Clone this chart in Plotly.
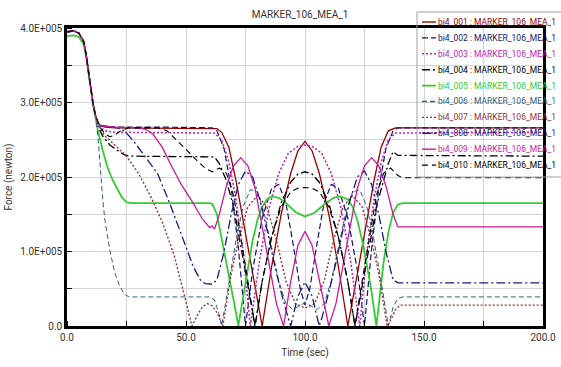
import plotly.graph_objects as go

# ---------------- data (time in s, force in kN; converted to N below) ----------------
LIFT_T = [0, 3, 5, 7, 8, 9, 10, 11, 12]
LIFT_F = [395, 396, 393, 382, 365, 342, 318, 297, 282]

s1_t = [13, 14, 16, 20, 30, 40, 50, 58, 61, 63, 65, 68, 71, 74, 78, 82, 86, 90, 94, 97, 100, 103, 106, 110, 114, 118, 122, 126, 129, 132, 135, 138, 150, 200]
s1_f = [273, 269, 267, 266, 266, 266, 266, 266, 266, 265, 260, 240, 195, 143, 70, 0, 80, 150, 205, 235, 248, 235, 205, 150, 80, 0, 70, 143, 195, 240, 262, 266, 266, 266]

s2_t = [13, 14, 16, 20, 40, 58, 61, 63, 66, 69, 72, 75, 78, 82, 86, 89, 92, 95, 98, 100, 102, 105, 108, 111, 114, 118, 122, 125, 128, 131, 134, 137, 139, 200]
s2_f = [273, 269, 268, 267, 267, 267, 266, 262, 238, 185, 105, 0, 75, 145, 185, 190, 165, 110, 50, 28, 50, 110, 165, 190, 185, 145, 75, 0, 105, 185, 238, 262, 266, 266]

s3_t = [13, 14, 16, 20, 58, 62, 65, 68, 71, 74, 77, 81, 85, 89, 93, 97, 100, 103, 107, 111, 115, 119, 123, 126, 129, 132, 135, 138, 200]
s3_f = [272, 266, 262, 260, 260, 259, 250, 220, 170, 100, 0, 90, 160, 205, 232, 241, 243, 241, 232, 205, 160, 90, 0, 100, 170, 220, 250, 259, 260]

s4_t = [13, 15, 18, 21, 24, 26, 60, 62, 64, 67, 70, 73, 76, 79, 82, 86, 90, 94, 97, 100, 103, 106, 110, 114, 118, 121, 124, 127, 130, 133, 135, 137, 139, 200]
s4_f = [268, 255, 243, 236, 230, 228, 228, 227, 218, 195, 160, 110, 55, 0, 60, 120, 165, 193, 204, 207, 204, 193, 165, 120, 60, 0, 55, 110, 160, 195, 218, 234, 229, 228]

s5_t = [0, 3, 5, 7, 8, 9, 10, 11, 12, 13, 15, 17, 19, 21, 23, 25, 27, 60, 61, 63, 65, 67, 69, 71, 72, 74, 76, 78, 80, 82, 84, 86, 89, 92, 96, 100, 104, 108, 112, 115, 118, 120, 122, 124, 126, 128, 130, 131.5, 133, 135, 137, 139, 141, 200]
s5_f = [389, 390, 388, 378, 362, 340, 316, 296, 280, 262, 236, 213, 197, 184, 173, 166, 165, 165, 164, 150, 118, 82, 50, 18, 0, 40, 80, 115, 142, 160, 170, 174, 172, 165, 153, 147, 152, 163, 172, 174, 170, 160, 142, 115, 82, 45, 0, 40, 85, 125, 152, 163, 165, 165]

s6_t = [12, 13, 14, 15, 16, 18, 20, 22, 24, 26, 30, 60, 62, 64, 65, 68, 71, 74, 77, 80, 83, 86, 89, 92, 95, 98, 100, 102, 105, 108, 111, 114, 117, 120, 123, 126, 129, 132, 135, 137, 139, 141, 200]
s6_f = [280, 255, 210, 170, 140, 102, 72, 55, 43, 39, 39, 39, 35, 15, 0, 60, 115, 160, 183, 180, 150, 105, 60, 30, 22, 28, 31, 28, 22, 30, 60, 105, 150, 180, 183, 160, 115, 60, 0, 25, 37, 39, 39]

s7_t = [12, 13, 14, 16, 20, 25, 30, 35, 40, 45, 49, 52.5, 55, 57, 59, 61, 63, 65.5, 69, 72, 76, 80, 84, 88, 92, 96, 100, 104, 108, 112, 116, 120, 124, 128, 131, 134.5, 136, 138, 140, 200]
s7_f = [282, 272, 264, 255, 243, 228, 205, 175, 140, 95, 45, 0, 16, 26, 30, 27, 18, 0, 70, 115, 160, 175, 160, 115, 60, 30, 24, 30, 60, 115, 160, 175, 160, 115, 70, 0, 8, 22, 28, 28]

s8_t = [13, 14, 16, 20, 23, 25, 28, 31.5, 35, 38, 43, 47, 50, 53, 56, 58, 61, 63, 66, 69, 72, 75, 78, 81, 84, 87, 90, 93, 94, 97, 100, 103, 106, 107, 110, 113, 116, 119, 122, 125, 128, 131, 134, 137, 139, 200]
s8_f = [273, 269, 268, 267, 264, 259, 248, 233, 218, 205, 166, 133, 106, 80, 62, 57, 56, 62, 100, 150, 190, 208, 200, 170, 130, 85, 45, 10, 0, 40, 59, 40, 0, 10, 45, 85, 130, 170, 200, 208, 190, 150, 100, 62, 58, 58]

s9_t = [13, 14, 16, 20, 30, 33, 36, 40, 44, 48, 53, 57, 60, 61, 62, 64, 67, 70, 73, 76, 79, 82, 85, 88, 91, 94, 97, 100, 103, 106, 110, 113, 116, 119, 122, 125, 128, 131, 134, 137, 139, 200]
s9_f = [273, 269, 268, 267, 266, 264, 258, 240, 214, 190, 165, 143, 132, 134, 130, 150, 188, 215, 226, 215, 185, 135, 80, 30, 0, 60, 108, 127, 108, 60, 0, 30, 80, 135, 185, 215, 226, 215, 188, 150, 133, 133]

s10_t = [13, 14, 16, 18, 20, 23, 26, 38, 42, 46, 50, 54, 58, 61, 64, 67, 70, 73, 76, 79, 82, 86, 90, 94, 97, 100, 103, 106, 110, 114, 118, 121, 124, 127, 130, 133, 136, 139, 141, 200]
s10_f = [273, 266, 258, 254, 256, 263, 266, 266, 262, 250, 237, 224, 212, 207, 212, 205, 175, 120, 60, 0, 60, 120, 160, 180, 185, 186, 185, 180, 160, 120, 60, 0, 60, 120, 175, 205, 212, 202, 199, 199]

series_names = ["bi4_001", "bi4_002", "bi4_003", "bi4_004", "bi4_005",
                "bi4_006", "bi4_007", "bi4_008", "bi4_009", "bi4_010"]
marker_name = "MARKER_106_MEA_1"
x_tickvals = [0, 50, 100, 150, 200]
x_ticktext = ["0.0", "50.0", "100.0", "150.0", "200.0"]
y_tickvals = [0, 100000, 200000, 300000, 400000]
y_ticktext = ["0.0", "1.0E+005", "2.0E+005", "3.0E+005", "4.0E+005"]

# ---------------- styling ----------------
colors = ["#990000", "#14146e", "#c024b4", "#000000", "#33cc33",
          "#34607e", "#9a3030", "#1c1c78", "#cc1a9c", "#000000"]
dashes = ["solid", "6px,3px", "2px,2px", "8px,3px,2px,3px", "solid",
          "5px,3px", "2px,2px", "9px,3px,2px,3px", "solid", "6px,4px"]
widths = [1.3, 1.2, 1.6, 1.3, 1.8, 1.0, 1.4, 1.3, 1.3, 1.1]

raw = [(s1_t, s1_f), (s2_t, s2_f), (s3_t, s3_f), (s4_t, s4_f), (s5_t, s5_f),
       (s6_t, s6_f), (s7_t, s7_f), (s8_t, s8_f), (s9_t, s9_f), (s10_t, s10_f)]

FONT = "Roboto, Liberation Sans Narrow, Arial Narrow, sans-serif"
TXT = "#333333"

fig = go.Figure()
for i, (t, f) in enumerate(raw):
    if t[0] != 0:
        t = LIFT_T + t
        f = LIFT_F + f
    fig.add_trace(go.Scatter(
        x=t, y=[v * 1000 for v in f], mode="lines",
        name=f"{series_names[i]} : {marker_name}",
        line=dict(color=colors[i], dash=dashes[i], width=widths[i]),
        showlegend=False,
    ))

W, H = 561, 367
L, R, T, B = 67, 543, 28, 326


def px(x):
    return (x - L) / (R - L)


def py(y):
    return (B - y) / (B - T)


LEG_X0 = 417
shapes = [dict(type="rect", xref="paper", yref="paper",
               x0=px(LEG_X0), x1=px(600), y0=py(177), y1=py(12),
               line=dict(color="#a0a0a0", width=1), fillcolor="rgba(0,0,0,0)",
               layer="above")]
annotations = []
for i in range(10):
    yy = 22 + 15.9 * i
    shapes.append(dict(type="line", xref="paper", yref="paper",
                       x0=px(LEG_X0 + 5), x1=px(LEG_X0 + 19), y0=py(yy), y1=py(yy),
                       line=dict(color=colors[i], dash=dashes[i], width=max(widths[i], 1.4)),
                       layer="above"))
    annotations.append(dict(xref="paper", yref="paper", x=px(LEG_X0 + 19), y=py(yy),
                            xanchor="left", yanchor="middle", showarrow=False,
                            text=f"{series_names[i]} : {marker_name}",
                            font=dict(family=FONT, size=8.5, color=colors[i])))

fig.update_layout(
    width=W, height=H,
    margin=dict(l=L, r=W - R, t=T, b=H - B, pad=0),
    paper_bgcolor="white", plot_bgcolor="white",
    title=dict(text=marker_name, x=300 / W, xanchor="center",
               y=1 - 14 / H, yanchor="middle",
               font=dict(family=FONT, size=10, color=TXT)),
    shapes=shapes, annotations=annotations,
    showlegend=False,
)
fig.update_xaxes(
    range=[0, 200], tickvals=x_tickvals, ticktext=x_ticktext, automargin=False,
    showgrid=True, gridcolor="#d4d4d4", gridwidth=1,
    minor=dict(dtick=25, showgrid=True, gridcolor="#d4d4d4", ticks="inside", ticklen=5, tickcolor="black"),
    showline=True, linecolor="black", linewidth=2.5, mirror=True,
    ticks="", zeroline=False,
    tickfont=dict(family=FONT, size=10, color=TXT),
    title=dict(text="Time (sec)", standoff=8, font=dict(family=FONT, size=10, color=TXT)),
)
fig.update_yaxes(
    range=[0, 400000], tickvals=y_tickvals, ticktext=y_ticktext, automargin=False,
    showgrid=True, gridcolor="#d4d4d4", gridwidth=1,
    minor=dict(dtick=50000, showgrid=True, gridcolor="#d4d4d4", ticks="inside", ticklen=5, tickcolor="black"),
    showline=True, linecolor="black", linewidth=2.5, mirror=True,
    ticks="", zeroline=False,
    tickfont=dict(family=FONT, size=10, color=TXT),
    title=dict(text="Force (newton)", standoff=6, font=dict(family=FONT, size=10, color=TXT)),
)

fig.write_html("out.html")
